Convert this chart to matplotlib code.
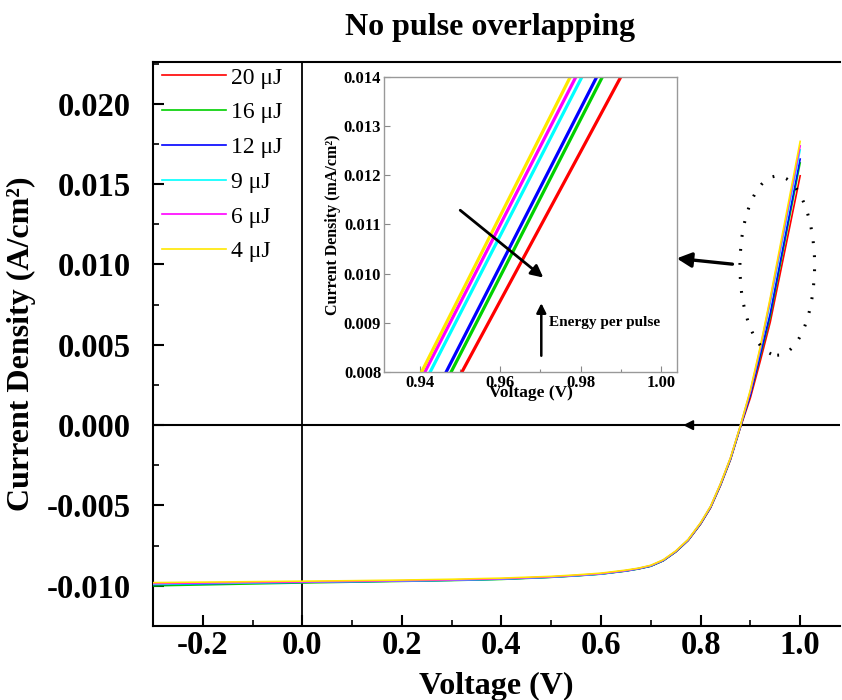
import matplotlib
matplotlib.use("Agg")
import matplotlib.pyplot as plt
from matplotlib.patches import Ellipse
from matplotlib.ticker import MultipleLocator, FormatStrFormatter

plt.rcParams['font.family'] = ['Liberation Serif', 'DejaVu Serif']
plt.rcParams['font.weight'] = 'bold'
plt.rcParams['axes.labelweight'] = 'bold'
plt.rcParams['axes.unicode_minus'] = False

# J-V sweep (V), shared by all pulse energies
voltage = [-0.3, -0.2, -0.1, 0.0, 0.1, 0.2, 0.3, 0.4, 0.5, 0.55, 0.6, 0.65,
           0.675, 0.7, 0.725, 0.75, 0.775, 0.8, 0.82, 0.84, 0.86, 0.88,
           0.90, 0.92, 0.94, 0.96, 0.98, 1.0]

# Current density (A/cm^2) for each pulse energy
j_20uJ = [-0.00988, -0.00984, -0.00980, -0.00976, -0.00973, -0.00969, -0.00964,
          -0.00957, -0.00945, -0.00936, -0.00925, -0.00906, -0.00893, -0.00876,
          -0.00843, -0.00789, -0.00718, -0.00616, -0.00515, -0.00376, -0.00216,
          -0.00014, 0.00170, 0.00400, 0.00642, 0.00945, 0.01248, 0.01552]
j_16uJ = [-0.01000, -0.00994, -0.00988, -0.00982, -0.00977, -0.00972, -0.00967,
          -0.00960, -0.00947, -0.00938, -0.00927, -0.00908, -0.00895, -0.00878,
          -0.00844, -0.00789, -0.00717, -0.00614, -0.00512, -0.00372, -0.00212,
          -0.00010, 0.00190, 0.00430, 0.00677, 0.00995, 0.01314, 0.01632]
j_12uJ = [-0.00992, -0.00987, -0.00982, -0.00978, -0.00974, -0.00970, -0.00965,
          -0.00958, -0.00946, -0.00937, -0.00926, -0.00907, -0.00894, -0.00877,
          -0.00843, -0.00788, -0.00716, -0.00613, -0.00511, -0.00371, -0.00211,
          -0.00010, 0.00190, 0.00440, 0.00696, 0.01016, 0.01336, 0.01656]
j_9uJ = [-0.00990, -0.00986, -0.00982, -0.00978, -0.00974, -0.00970, -0.00965,
         -0.00958, -0.00946, -0.00937, -0.00926, -0.00906, -0.00893, -0.00875,
         -0.00841, -0.00786, -0.00714, -0.00610, -0.00508, -0.00368, -0.00207,
         -0.00006, 0.00210, 0.00470, 0.00760, 0.01078, 0.01395, 0.01713]
j_6uJ = [-0.00986, -0.00982, -0.00979, -0.00976, -0.00972, -0.00968, -0.00963,
         -0.00956, -0.00944, -0.00935, -0.00924, -0.00905, -0.00892, -0.00874,
         -0.00840, -0.00785, -0.00713, -0.00609, -0.00507, -0.00366, -0.00205,
         -0.00004, 0.00210, 0.00480, 0.00781, 0.01100, 0.01419, 0.01738]
j_4uJ = [-0.00980, -0.00977, -0.00974, -0.00971, -0.00968, -0.00964, -0.00959,
         -0.00952, -0.00941, -0.00932, -0.00921, -0.00902, -0.00890, -0.00872,
         -0.00838, -0.00783, -0.00711, -0.00607, -0.00505, -0.00364, -0.00203,
         -0.00002, 0.00220, 0.00490, 0.00794, 0.01118, 0.01442, 0.01766]

series = [j_20uJ, j_16uJ, j_12uJ, j_9uJ, j_6uJ, j_4uJ]
labels = ["20 μJ", "16 μJ", "12 μJ", "9 μJ", "6 μJ", "4 μJ"]
colors = ["#FF0000", "#00D000", "#0000FF", "#00FFFF", "#FF00FF", "#FFE800"]

x_ticks = [-0.2, 0.0, 0.2, 0.4, 0.6, 0.8, 1.0]
y_ticks = [-0.010, -0.005, 0.000, 0.005, 0.010, 0.015, 0.020]
inset_x_ticks = [0.94, 0.96, 0.98, 1.00]
inset_y_ticks = [0.008, 0.009, 0.010, 0.011, 0.012, 0.013, 0.014]

fig = plt.figure(figsize=(8.42, 7.0), dpi=100)

# ---- main J-V panel ----
ax = fig.add_axes([0.1817, 0.1057, 0.8159, 0.8057])
for j, c, lab in zip(series, colors, labels):
    ax.plot(voltage, j, color=c, lw=1.2, label=lab, zorder=3)

ax.set_xlim(-0.3, 1.08)
ax.set_ylim(-0.0125, 0.0226)
ax.axhline(0, color='k', lw=1.5, zorder=2)
ax.axvline(0, color='k', lw=1.3, zorder=2)

ax.set_xticks(x_ticks)
ax.set_yticks(y_ticks)
ax.xaxis.set_major_formatter(FormatStrFormatter('%.1f'))
ax.yaxis.set_major_formatter(FormatStrFormatter('%.3f'))
ax.xaxis.set_minor_locator(MultipleLocator(0.1))
ax.yaxis.set_minor_locator(MultipleLocator(0.0025))
ax.tick_params(which='both', direction='in', top=False, right=False)
ax.tick_params(which='major', length=8, width=1.5, labelsize=23.5)
ax.tick_params(which='minor', length=4.5, width=1.2)
ax.tick_params(axis='x', pad=3)
ax.tick_params(axis='y', pad=16)
for sp in ax.spines.values():
    sp.set_linewidth(1.5)
ax.spines['right'].set_visible(False)

ax.set_xlabel("Voltage (V)", fontsize=23, labelpad=8)
ax.set_ylabel("Current Density (A/cm²)", fontsize=23, labelpad=8)

leg = ax.legend(loc='upper left', bbox_to_anchor=(-0.009, 1.018), frameon=False,
                prop={'size': 17, 'weight': 'normal'}, handlelength=2.7,
                labelspacing=0.56, handletextpad=0.2, borderaxespad=0.25)

# dotted ring around the curves' upper end
ax.add_patch(Ellipse((0.954, 0.00993), 0.150, 0.01115, fill=False,
                     ls=(0, (0.6, 4.0)), lw=2.2, ec='k', zorder=4))
ax.annotate('', xy=(0.752, 0.01038), xytext=(0.864, 0.01002),
            arrowprops=dict(arrowstyle='-|>', lw=2.4, color='k',
                            mutation_scale=22, shrinkA=0, shrinkB=0),
            annotation_clip=False, zorder=6)
ax.annotate('', xy=(0.765, 0), xytext=(0.80, 0),
            arrowprops=dict(arrowstyle='-|>', lw=1.2, color='k',
                            mutation_scale=15, shrinkA=0, shrinkB=0), zorder=4)

fig.text(0.582, 0.96, "No pulse overlapping", fontsize=23, ha='center', va='center')

# ---- zoomed inset ----
axi = fig.add_axes([0.456, 0.4686, 0.348, 0.4214])
for j, c in zip(series, colors):
    axi.plot(voltage, j, color=c, lw=2.3)
axi.set_xlim(0.931, 1.004)
axi.set_ylim(0.008, 0.014)
axi.set_xticks(inset_x_ticks)
axi.set_yticks(inset_y_ticks)
axi.xaxis.set_major_formatter(FormatStrFormatter('%.2f'))
axi.yaxis.set_major_formatter(FormatStrFormatter('%.3f'))
axi.xaxis.set_minor_locator(MultipleLocator(0.01))
axi.tick_params(which='both', direction='in', color='#888888', top=False, right=False)
axi.tick_params(which='major', length=4, width=0.8, labelsize=12, pad=2)
axi.tick_params(which='minor', length=2.5, width=0.8)
for sp in axi.spines.values():
    sp.set_color('#999999')
    sp.set_linewidth(1.0)
axi.set_xlabel("Voltage (V)", fontsize=12.5, labelpad=-4)
axi.set_ylabel("Current Density (mA/cm²)", fontsize=11.5, labelpad=2)

axi.annotate('', xy=(0.9707, 0.00992), xytext=(0.950, 0.01129),
             arrowprops=dict(arrowstyle='-|>', lw=2.0, color='k',
                             mutation_scale=18, shrinkA=0, shrinkB=0))
axi.annotate('', xy=(0.9702, 0.00940), xytext=(0.9702, 0.00833),
             arrowprops=dict(arrowstyle='-|>', lw=1.8, color='k',
                             mutation_scale=14, shrinkA=0, shrinkB=0))
axi.text(0.9722, 0.0090, "Energy per pulse", fontsize=11, va='center', ha='left')

fig.savefig("out.png", dpi=100)
